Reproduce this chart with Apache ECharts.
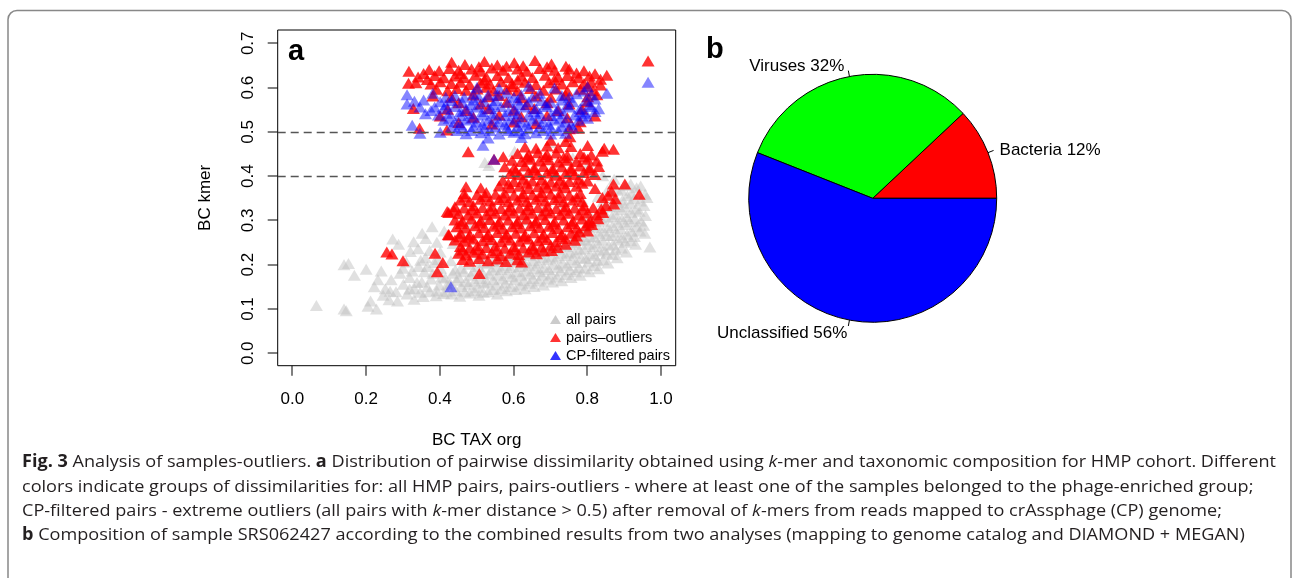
<!DOCTYPE html>
<html>
<head>
<meta charset="utf-8">
<script src="https://cdn.jsdelivr.net/npm/echarts@6/dist/echarts.min.js"></script>
<style>
html, body { margin: 0; padding: 0; background: #fff; }
#main { width: 1292px; height: 578px; }
</style>
</head>
<body>
<div id="main"></div>
<script>
// ---- data ----
var xTicks = [0, 0.2, 0.4, 0.6, 0.8, 1.0];
var yTicks = [0, 0.1, 0.2, 0.3, 0.4, 0.5, 0.6, 0.7];
var xExtent = [-0.04, 1.04];     // R pads the axes by 4%
var yExtent = [-0.028, 0.73];
var cutLines = [0.5, 0.4];

// all pairs (grey cloud)
var grayPts = [
  [0.065,0.108],[0.140,0.100],[0.146,0.096],[0.140,0.200],[0.152,0.203],[0.168,0.176],[0.200,0.190],[0.228,0.100],[0.212,0.118],[0.205,0.106],
  [0.222,0.150],[0.232,0.166],[0.241,0.186],[0.246,0.131],[0.252,0.146],[0.262,0.121],[0.272,0.258],[0.288,0.246],[0.268,0.166],[0.281,0.139],
  [0.292,0.181],[0.301,0.156],[0.309,0.206],[0.318,0.171],[0.329,0.252],[0.341,0.236],[0.352,0.271],[0.362,0.259],[0.311,0.134],[0.331,0.146],
  [0.342,0.196],[0.351,0.161],[0.361,0.216],[0.372,0.139],[0.381,0.181],[0.379,0.286],[0.392,0.251],[0.401,0.229],[0.398,0.154],[0.412,0.276],
  [0.418,0.139],[0.970,0.240],[0.320,0.230],[0.300,0.192],[0.265,0.140],[0.358,0.184],[0.372,0.232],[0.385,0.205],[0.402,0.192],[0.415,0.170],
  [0.285,0.118],[0.330,0.122],[0.355,0.128],[0.390,0.130],
  [0.432,0.134],[0.428,0.158],[0.435,0.181],[0.430,0.209],[0.436,0.248],
  [0.454,0.129],[0.458,0.151],[0.452,0.171],[0.457,0.192],[0.453,0.231],[0.459,0.270],
  [0.481,0.136],[0.478,0.156],[0.484,0.176],[0.479,0.201],[0.482,0.238],[0.477,0.292],
  [0.506,0.131],[0.503,0.149],[0.508,0.169],[0.504,0.196],[0.507,0.219],
  [0.531,0.139],[0.528,0.161],[0.533,0.179],[0.529,0.202],[0.532,0.251],[0.527,0.302],
  [0.556,0.134],[0.553,0.154],[0.558,0.176],[0.554,0.195],[0.557,0.216],
  [0.581,0.141],[0.578,0.159],[0.583,0.181],[0.579,0.199],[0.582,0.221],[0.577,0.268],
  [0.606,0.144],[0.603,0.166],[0.608,0.184],[0.604,0.206],[0.607,0.224],
  [0.631,0.146],[0.628,0.164],[0.633,0.186],[0.629,0.204],[0.632,0.226],[0.627,0.301],
  [0.656,0.151],[0.653,0.169],[0.658,0.191],[0.654,0.209],[0.657,0.231],
  [0.681,0.154],[0.678,0.176],[0.683,0.194],[0.679,0.216],[0.682,0.234],[0.677,0.321],
  [0.706,0.161],[0.703,0.179],[0.708,0.201],[0.704,0.219],[0.707,0.241],
  [0.731,0.164],[0.728,0.186],[0.733,0.204],[0.729,0.226],[0.732,0.244],[0.727,0.339],
  [0.756,0.171],[0.753,0.189],[0.758,0.211],[0.754,0.229],[0.757,0.251],
  [0.781,0.176],[0.778,0.194],[0.783,0.216],[0.779,0.234],[0.782,0.256],[0.777,0.274],[0.784,0.349],
  [0.806,0.184],[0.803,0.206],[0.808,0.224],[0.804,0.246],[0.807,0.264],[0.802,0.286],[0.809,0.311],
  [0.831,0.191],[0.828,0.209],[0.833,0.231],[0.829,0.249],[0.832,0.271],[0.827,0.289],[0.834,0.321],[0.830,0.354],
  [0.856,0.204],[0.853,0.226],[0.858,0.244],[0.854,0.266],[0.857,0.284],[0.852,0.306],[0.859,0.331],[0.855,0.369],
  [0.881,0.216],[0.878,0.234],[0.883,0.256],[0.879,0.274],[0.882,0.296],[0.877,0.314],[0.884,0.341],[0.880,0.371],
  [0.906,0.229],[0.903,0.251],[0.908,0.269],[0.904,0.291],[0.907,0.309],[0.902,0.331],[0.909,0.356],[0.905,0.379],
  [0.931,0.246],[0.928,0.264],[0.933,0.286],[0.929,0.304],[0.932,0.326],[0.927,0.349],[0.934,0.374],
  [0.956,0.271],[0.953,0.289],[0.958,0.311],[0.954,0.334],[0.957,0.359],
  [0.522,0.431],[0.533,0.424],[0.603,0.456],[0.702,0.476],[0.761,0.441],[0.802,0.426],[0.842,0.401],[0.873,0.393],[0.918,0.382],[0.945,0.378],[0.962,0.352],
  [0.318,0.145],[0.338,0.160],[0.346,0.138],[0.366,0.150],[0.376,0.168],[0.392,0.141],[0.405,0.172],[0.410,0.135],[0.420,0.155],[0.325,0.186],[0.348,0.210],[0.366,0.196],[0.395,0.212],
  [0.443,0.142],[0.445,0.165],[0.442,0.188],
  [0.468,0.139],[0.470,0.162],[0.466,0.184],
  [0.493,0.141],[0.495,0.163],[0.491,0.186],
  [0.518,0.138],[0.520,0.159],[0.516,0.182],[0.519,0.205],
  [0.543,0.144],[0.545,0.166],[0.541,0.188],[0.544,0.208],
  [0.568,0.146],[0.570,0.168],[0.566,0.189],[0.569,0.210],
  [0.593,0.151],[0.595,0.173],[0.591,0.194],[0.594,0.215],
  [0.618,0.154],[0.620,0.176],[0.616,0.196],[0.619,0.216],
  [0.643,0.158],[0.645,0.179],[0.641,0.199],[0.644,0.221],
  [0.668,0.163],[0.670,0.184],[0.666,0.204],[0.669,0.226],
  [0.693,0.168],[0.695,0.189],[0.691,0.211],[0.694,0.231],
  [0.718,0.172],[0.720,0.194],[0.716,0.215],[0.719,0.236],
  [0.743,0.178],[0.745,0.199],[0.741,0.221],[0.744,0.241],
  [0.768,0.184],[0.770,0.205],[0.766,0.226],[0.769,0.246],[0.767,0.266],
  [0.793,0.191],[0.795,0.214],[0.791,0.236],[0.794,0.256],[0.792,0.278],
  [0.818,0.198],[0.820,0.221],[0.816,0.241],[0.819,0.262],[0.817,0.284],[0.821,0.305],
  [0.843,0.211],[0.845,0.234],[0.841,0.256],[0.844,0.276],[0.842,0.298],[0.846,0.319],[0.843,0.342],
  [0.868,0.223],[0.870,0.246],[0.866,0.266],[0.869,0.288],[0.867,0.309],[0.871,0.331],[0.868,0.356],
  [0.893,0.238],[0.895,0.261],[0.891,0.281],[0.894,0.303],[0.892,0.324],[0.896,0.346],[0.893,0.368],
  [0.918,0.254],[0.920,0.276],[0.916,0.297],[0.919,0.318],[0.917,0.339],[0.921,0.362],
  [0.943,0.276],[0.945,0.299],[0.941,0.321],[0.944,0.344]
];

// pairs-outliers (red)
var redPts = [
  [0.462,0.212],[0.481,0.208],[0.506,0.214],[0.531,0.209],[0.556,0.213],[0.579,0.207],[0.611,0.211],[0.622,0.206],
  [0.451,0.226],[0.472,0.222],[0.491,0.228],[0.516,0.224],[0.541,0.227],[0.566,0.221],[0.591,0.226],[0.614,0.223],[0.641,0.229],[0.662,0.225],[0.681,0.231],
  [0.462,0.233],[0.503,0.234],[0.553,0.232],[0.603,0.233],[0.653,0.235],[0.703,0.232],
  [0.456,0.241],[0.481,0.238],[0.502,0.243],[0.526,0.239],[0.551,0.242],[0.576,0.237],[0.601,0.241],[0.626,0.238],[0.651,0.243],[0.676,0.240],[0.701,0.244],[0.719,0.239],[0.741,0.246],
  [0.441,0.256],[0.466,0.253],[0.491,0.258],[0.516,0.254],[0.541,0.257],[0.566,0.252],[0.591,0.256],[0.616,0.253],[0.641,0.258],[0.666,0.254],[0.691,0.257],[0.716,0.252],[0.741,0.259],[0.766,0.255],
  [0.453,0.263],[0.478,0.262],[0.528,0.264],[0.578,0.262],[0.628,0.263],[0.678,0.262],[0.728,0.263],[0.771,0.265],
  [0.423,0.268],[0.456,0.271],[0.481,0.267],[0.506,0.272],[0.531,0.268],[0.556,0.273],[0.581,0.269],[0.606,0.271],[0.631,0.266],[0.656,0.272],[0.681,0.269],[0.706,0.273],[0.731,0.268],[0.756,0.271],[0.779,0.274],[0.801,0.276],
  [0.446,0.286],[0.471,0.283],[0.496,0.288],[0.521,0.284],[0.546,0.287],[0.571,0.282],[0.596,0.286],[0.621,0.283],[0.646,0.288],[0.671,0.284],[0.696,0.287],[0.721,0.282],[0.746,0.286],[0.771,0.283],[0.796,0.288],[0.812,0.291],
  [0.458,0.293],[0.508,0.294],[0.558,0.292],[0.608,0.293],[0.658,0.294],[0.708,0.292],[0.758,0.293],[0.803,0.295],
  [0.441,0.301],[0.461,0.298],[0.486,0.303],[0.511,0.299],[0.536,0.302],[0.561,0.297],[0.586,0.301],[0.611,0.298],[0.636,0.303],[0.661,0.299],[0.686,0.302],[0.711,0.297],[0.736,0.301],[0.761,0.298],[0.786,0.303],[0.809,0.299],[0.829,0.304],
  [0.424,0.318],[0.451,0.315],[0.476,0.312],[0.501,0.317],[0.526,0.313],[0.551,0.316],[0.576,0.312],[0.601,0.317],[0.626,0.313],[0.651,0.316],[0.676,0.312],[0.701,0.317],[0.726,0.313],[0.751,0.316],[0.776,0.312],[0.801,0.317],[0.826,0.313],[0.842,0.318],
  [0.438,0.323],[0.488,0.324],[0.538,0.322],[0.588,0.323],[0.638,0.324],[0.688,0.322],[0.738,0.323],[0.788,0.324],[0.838,0.326],
  [0.441,0.331],[0.466,0.328],[0.491,0.333],[0.516,0.329],[0.541,0.332],[0.566,0.327],[0.591,0.331],[0.616,0.328],[0.641,0.333],[0.666,0.329],[0.691,0.332],[0.716,0.327],[0.741,0.331],[0.766,0.328],[0.791,0.333],[0.816,0.329],[0.851,0.334],[0.872,0.337],
  [0.456,0.346],[0.481,0.343],[0.511,0.348],[0.536,0.344],[0.561,0.347],[0.586,0.342],[0.611,0.346],[0.636,0.343],[0.661,0.348],[0.686,0.344],[0.711,0.347],[0.736,0.342],[0.761,0.346],[0.786,0.343],[0.841,0.352],[0.876,0.349],
  [0.468,0.353],[0.523,0.354],[0.573,0.352],[0.623,0.353],[0.673,0.354],[0.723,0.352],[0.771,0.353],[0.856,0.357],
  [0.466,0.361],[0.501,0.358],[0.526,0.363],[0.551,0.359],[0.576,0.362],[0.601,0.357],[0.626,0.361],[0.651,0.358],[0.676,0.363],[0.701,0.359],[0.726,0.362],[0.751,0.357],[0.781,0.361],[0.866,0.366],[0.941,0.359],
  [0.471,0.376],[0.511,0.373],[0.561,0.378],[0.591,0.374],[0.616,0.377],[0.641,0.372],[0.666,0.376],[0.691,0.373],[0.716,0.378],[0.741,0.374],[0.771,0.377],[0.821,0.372],[0.871,0.382],[0.902,0.382],
  [0.586,0.383],[0.636,0.384],[0.686,0.382],[0.736,0.383],[0.786,0.384],
  [0.571,0.391],[0.601,0.388],[0.626,0.393],[0.651,0.389],[0.676,0.392],[0.701,0.387],[0.726,0.391],[0.751,0.388],[0.776,0.393],[0.801,0.389],
  [0.591,0.406],[0.616,0.403],[0.641,0.408],[0.666,0.404],[0.691,0.407],[0.716,0.402],[0.741,0.406],[0.766,0.403],[0.791,0.408],[0.821,0.404],
  [0.606,0.413],[0.656,0.414],[0.706,0.412],[0.756,0.413],[0.806,0.414],
  [0.576,0.421],[0.601,0.418],[0.631,0.423],[0.656,0.419],[0.681,0.422],[0.706,0.417],[0.731,0.421],[0.756,0.418],[0.781,0.423],[0.806,0.419],[0.831,0.422],
  [0.596,0.436],[0.621,0.433],[0.646,0.438],[0.671,0.434],[0.696,0.437],[0.721,0.432],[0.746,0.436],[0.771,0.433],[0.801,0.438],[0.826,0.434],
  [0.636,0.443],[0.686,0.444],[0.736,0.442],[0.791,0.443],
  [0.572,0.444],[0.611,0.451],[0.641,0.448],[0.666,0.453],[0.691,0.449],[0.716,0.452],[0.746,0.447],[0.781,0.451],[0.811,0.448],[0.841,0.456],[0.871,0.461],
  [0.631,0.466],[0.661,0.463],[0.691,0.468],[0.721,0.464],[0.756,0.467],[0.801,0.469],[0.846,0.463],
  [0.701,0.481],[0.741,0.478],[0.753,0.489],
  [0.477,0.455],[0.547,0.438],[0.256,0.229],[0.270,0.224],[0.300,0.209],[0.387,0.226],[0.408,0.205],[0.393,0.184],[0.507,0.180],[0.425,0.267],[0.420,0.320],
  [0.432,0.657],[0.468,0.652],[0.521,0.659],[0.556,0.651],[0.602,0.656],[0.658,0.661],[0.703,0.653],[0.742,0.648],
  [0.506,0.647],[0.581,0.648],[0.626,0.649],[0.691,0.647],
  [0.316,0.637],[0.371,0.641],[0.398,0.638],[0.426,0.643],[0.451,0.639],[0.486,0.642],[0.511,0.637],[0.541,0.644],[0.571,0.639],[0.611,0.642],[0.636,0.637],[0.671,0.643],[0.711,0.639],[0.751,0.642],[0.791,0.638],
  [0.356,0.632],[0.456,0.632],[0.771,0.633],
  [0.341,0.624],[0.386,0.627],[0.411,0.622],[0.441,0.626],[0.466,0.623],[0.496,0.628],[0.526,0.624],[0.556,0.627],[0.586,0.622],[0.621,0.626],[0.651,0.623],[0.686,0.628],[0.721,0.624],[0.746,0.627],[0.776,0.622],[0.806,0.626],[0.821,0.631],[0.853,0.628],
  [0.836,0.619],[0.366,0.618],[0.521,0.617],[0.611,0.617],[0.711,0.618],
  [0.315,0.610],[0.335,0.611],[0.376,0.608],[0.401,0.613],[0.431,0.609],[0.456,0.612],[0.481,0.607],[0.511,0.611],[0.536,0.608],[0.566,0.613],[0.596,0.609],[0.631,0.612],[0.661,0.607],[0.696,0.611],[0.731,0.608],[0.761,0.613],[0.791,0.609],[0.811,0.612],[0.836,0.606],
  [0.801,0.603],[0.526,0.601],[0.596,0.602],
  [0.391,0.596],[0.421,0.593],[0.446,0.598],[0.471,0.594],[0.501,0.597],[0.546,0.592],[0.581,0.596],[0.611,0.593],[0.646,0.598],[0.681,0.594],[0.716,0.597],[0.746,0.592],[0.781,0.596],[0.816,0.593],
  [0.381,0.581],[0.431,0.578],[0.491,0.583],[0.531,0.579],[0.561,0.582],[0.621,0.577],[0.661,0.581],[0.701,0.578],[0.741,0.583],[0.801,0.579],[0.826,0.584],
  [0.451,0.566],[0.511,0.563],[0.581,0.567],[0.636,0.562],[0.691,0.566],[0.751,0.563],[0.801,0.568],
  [0.328,0.553],[0.421,0.551],[0.471,0.548],[0.531,0.552],[0.601,0.549],[0.656,0.553],[0.721,0.548],[0.786,0.551],
  [0.401,0.536],[0.491,0.533],[0.561,0.538],[0.621,0.534],[0.691,0.537],[0.746,0.532],[0.821,0.536],
  [0.451,0.521],[0.541,0.518],[0.601,0.522],[0.661,0.519],[0.781,0.523],
  [0.345,0.508],[0.419,0.504],[0.751,0.507],[0.776,0.508],[0.965,0.660]
];

// CP-filtered pairs (blue)
var bluePts = [
  [0.501,0.601],[0.561,0.598],[0.641,0.603],[0.711,0.599],[0.801,0.602],
  [0.311,0.584],[0.381,0.587],[0.441,0.582],[0.491,0.586],[0.531,0.583],[0.581,0.588],[0.621,0.584],[0.671,0.587],[0.731,0.582],[0.771,0.586],[0.811,0.583],[0.853,0.587],
  [0.416,0.578],[0.466,0.578],[0.506,0.578],[0.556,0.583],[0.601,0.578],[0.651,0.578],[0.751,0.578],[0.791,0.592],
  [0.331,0.569],[0.356,0.572],[0.401,0.568],[0.431,0.571],[0.461,0.567],[0.491,0.572],[0.521,0.568],[0.551,0.571],[0.586,0.567],[0.611,0.572],[0.641,0.568],[0.676,0.571],[0.701,0.567],[0.731,0.572],[0.761,0.568],[0.796,0.571],[0.821,0.574],
  [0.416,0.561],[0.486,0.561],[0.546,0.561],[0.616,0.561],[0.686,0.561],[0.746,0.561],[0.806,0.561],
  [0.311,0.563],[0.386,0.556],[0.411,0.553],[0.441,0.557],[0.471,0.552],[0.501,0.556],[0.536,0.553],[0.566,0.557],[0.601,0.552],[0.631,0.556],[0.661,0.553],[0.691,0.557],[0.721,0.552],[0.751,0.556],[0.781,0.553],[0.811,0.557],[0.831,0.552],
  [0.346,0.556],[0.376,0.548],[0.456,0.546],[0.516,0.546],[0.586,0.546],[0.656,0.546],[0.716,0.546],[0.781,0.546],
  [0.361,0.541],[0.396,0.538],[0.426,0.542],[0.456,0.537],[0.486,0.541],[0.516,0.538],[0.546,0.542],[0.576,0.537],[0.611,0.541],[0.641,0.538],[0.671,0.542],[0.701,0.537],[0.736,0.541],[0.766,0.538],[0.796,0.542],[0.821,0.546],
  [0.426,0.531],[0.486,0.531],[0.546,0.531],[0.606,0.531],[0.666,0.531],[0.726,0.531],[0.786,0.536],
  [0.411,0.526],[0.441,0.523],[0.471,0.527],[0.501,0.522],[0.531,0.526],[0.561,0.523],[0.591,0.527],[0.621,0.522],[0.651,0.526],[0.681,0.523],[0.711,0.527],[0.741,0.522],[0.776,0.526],[0.801,0.531],
  [0.456,0.517],[0.516,0.517],[0.576,0.517],[0.636,0.517],[0.696,0.517],[0.756,0.517],
  [0.325,0.515],[0.431,0.511],[0.461,0.508],[0.491,0.512],[0.521,0.507],[0.551,0.511],[0.581,0.508],[0.611,0.512],[0.641,0.507],[0.671,0.511],[0.701,0.508],[0.731,0.512],[0.761,0.509],
  [0.446,0.503],[0.486,0.503],[0.536,0.503],[0.586,0.503],[0.616,0.503],[0.681,0.503],[0.721,0.503],
  [0.346,0.497],[0.401,0.499],[0.471,0.496],[0.511,0.498],[0.561,0.495],[0.601,0.499],[0.631,0.496],[0.661,0.498],[0.701,0.495],[0.741,0.497],
  [0.531,0.486],[0.621,0.487],[0.517,0.470],[0.547,0.438],[0.430,0.150],[0.965,0.612]
];

// pie (panel b)
var pieNames = ['Bacteria', 'Viruses', 'Unclassified'];
var pieValues = [12, 32, 56];
var pieColors = ['#ff0000', '#00ff00', '#0000ff'];

var captionLines = [
  '{b|Fig. 3} Analysis of samples-outliers. {b|a} Distribution of pairwise dissimilarity obtained using {i|k}-mer and taxonomic composition for HMP cohort. Different',
  'colors indicate groups of dissimilarities for: all HMP pairs, pairs-outliers - where at least one of the samples belonged to the phage-enriched group;',
  'CP-filtered pairs - extreme outliers (all pairs with {i|k}-mer distance > 0.5) after removal of {i|k}-mers from reads mapped to crAssphage (CP) genome;',
  '{b|b} Composition of sample SRS062427 according to the combined results from two analyses (mapping to genome catalog and DIAMOND + MEGAN)'
];

// ---- chart ----
var FONT = '"Liberation Sans", Arial, Helvetica, sans-serif';
var CAPFONT = '"Open Sans", "Noto Sans", sans-serif';
var CAPSIZE = 17;
var TRI = [13, 11];
var TICKLEN = 10;
var GRID = { left: 277.7, top: 30, width: 398, height: 335.7 };

// fit caption width like the original (first line spans ~1254px)
function measureRich(line) {
  var ctx = document.createElement('canvas').getContext('2d');
  var w = 0, re = /\{(\w)\|([^}]*)\}|([^{]+)/g, m;
  while ((m = re.exec(line)) !== null) {
    var style = '', txt = m[3];
    if (m[1]) { txt = m[2]; style = m[1] === 'b' ? 'bold ' : 'italic '; }
    ctx.font = style + CAPSIZE + 'px ' + CAPFONT;
    w += ctx.measureText(txt).width;
  }
  return w;
}
var capScale = 1254 / measureRich(captionLines[0]);

var myChart = echarts.init(document.getElementById('main'), null, { renderer: 'canvas' });

var capRich = {
  b: { fontWeight: 'bold', fontSize: CAPSIZE, fontFamily: CAPFONT, fill: '#231f20' },
  i: { fontStyle: 'italic', fontSize: CAPSIZE, fontFamily: CAPFONT, fill: '#231f20' }
};
var captionY = [462, 487, 511, 535];
var graphics = [
  {
    id: 'frame', type: 'rect', silent: true,
    shape: { x: 8, y: 10.5, width: 1283, height: 700, r: 9 },
    style: { fill: 'transparent', stroke: '#888', lineWidth: 1.5 }
  },
  {
    id: 'panelA', type: 'text', x: 288, y: 52,
    style: { text: 'a', fontSize: 29, fontWeight: 'bold', fontFamily: FONT, fill: '#000', verticalAlign: 'middle' }
  },
  {
    id: 'panelB', type: 'text', x: 706, y: 50,
    style: { text: 'b', fontSize: 29, fontWeight: 'bold', fontFamily: FONT, fill: '#000', verticalAlign: 'middle' }
  }
];
for (var i = 0; i < captionLines.length; i++) {
  graphics.push({
    id: 'cap' + i, type: 'text', x: 22, y: captionY[i], scaleX: capScale, originX: 0, originY: 0,
    style: {
      text: captionLines[i], rich: capRich,
      fontSize: CAPSIZE, fontFamily: CAPFONT, fill: '#231f20', verticalAlign: 'middle'
    }
  });
}

// R puts pie labels at 1.1r; nudge them with spacer lines
var pieLabelFmt = [
  '{t|{b} {c}%}',
  '{t|{b} {c}%}\n{g8| }',
  '{g14| }\n{t|{b} {c}%}'
];
var pieLabelDist = [6, 4, 1];
var pieData = [];
for (var j = 0; j < pieNames.length; j++) {
  pieData.push({
    name: pieNames[j], value: pieValues[j],
    itemStyle: { color: pieColors[j] },
    label: { formatter: pieLabelFmt[j], distanceToLabelLine: pieLabelDist[j] }
  });
}

option = {
  animation: false,
  backgroundColor: '#fff',
  textStyle: { fontFamily: FONT },
  grid: {
    left: GRID.left, top: GRID.top, width: GRID.width, height: GRID.height,
    show: true, borderColor: '#000', borderWidth: 1, backgroundColor: 'transparent'
  },
  legend: {
    left: 545, top: 307, orient: 'vertical',
    itemWidth: 11, itemHeight: 9, itemGap: 3,
    textStyle: { color: '#000', fontSize: 14.5, fontFamily: FONT },
    data: [
      { name: 'all pairs', icon: 'triangle', itemStyle: { color: '#bebebe' } },
      { name: 'pairs\u2013outliers', icon: 'triangle', itemStyle: { color: '#ff0000' } },
      { name: 'CP-filtered pairs', icon: 'triangle', itemStyle: { color: '#0000ff' } }
    ],
    selectedMode: false
  },
  xAxis: {
    type: 'value', min: xExtent[0], max: xExtent[1],
    name: 'BC TAX org', nameLocation: 'middle', nameGap: 66,
    nameTextStyle: { color: '#000', fontSize: 17, fontFamily: FONT },
    axisLine: { show: false, onZero: false },
    axisTick: { show: false },
    axisLabel: {
      customValues: xTicks, margin: 25, color: '#000', fontSize: 17, fontFamily: FONT,
      formatter: function (v) { return v.toFixed(1); }
    },
    splitLine: { show: false }
  },
  yAxis: {
    type: 'value', min: yExtent[0], max: yExtent[1],
    name: 'BC kmer', nameLocation: 'middle', nameGap: 64,
    nameTextStyle: { color: '#000', fontSize: 17, fontFamily: FONT },
    axisLine: { show: false, onZero: false },
    axisTick: { show: false },
    axisLabel: {
      customValues: yTicks, margin: 21, rotate: 90, color: '#000', fontSize: 17, fontFamily: FONT,
      formatter: function (v) { return v.toFixed(1); }
    },
    splitLine: { show: false }
  },
  graphic: { elements: graphics },
  series: [
    {
      name: 'all pairs', type: 'scatter', symbol: 'triangle', symbolSize: TRI,
      itemStyle: { color: 'rgba(190,190,190,0.6)' },
      emphasis: { disabled: true }, silent: true,
      data: grayPts,
      markLine: {
        silent: true, symbol: ['none', 'none'], label: { show: false },
        lineStyle: { color: '#555', type: [8, 5], width: 1.3 },
        data: cutLines.map(function (v) { return { yAxis: v }; })
      }
    },
    {
      name: 'pairs\u2013outliers', type: 'scatter', symbol: 'triangle', symbolSize: TRI,
      itemStyle: { color: '#ff0000' },
      emphasis: { disabled: true }, silent: true,
      data: redPts
    },
    {
      name: 'CP-filtered pairs', type: 'scatter', symbol: 'triangle', symbolSize: TRI,
      itemStyle: { color: 'rgba(0,0,255,0.6)' },
      emphasis: { disabled: true }, silent: true,
      data: bluePts
    },
    {
      name: 'composition', type: 'pie',
      center: [872.7, 198.3], radius: 124,
      startAngle: 0, clockwise: false,
      silent: true, emphasis: { disabled: true },
      itemStyle: { borderColor: '#000', borderWidth: 1 },
      label: {
        show: true, position: 'outside',
        color: '#000', fontSize: 17, fontFamily: FONT,
        rich: {
          t: { color: '#000', fontSize: 17, fontFamily: FONT, lineHeight: 20 },
          g8: { fontSize: 4, lineHeight: 8 },
          g14: { fontSize: 4, lineHeight: 14 }
        }
      },
      labelLine: { show: true, length: 6, length2: 0, lineStyle: { color: '#000', width: 1 } },
      data: pieData
    }
  ]
};
myChart.setOption(option);

// R-style outward ticks on the box edges: position from the axis scale,
// with the same linear mapping as a fallback
function toPixel(pt) {
  var p = null;
  try { p = myChart.convertToPixel({ xAxisIndex: 0, yAxisIndex: 0 }, pt); } catch (e) { p = null; }
  if (!p || !isFinite(p[0]) || !isFinite(p[1])) {
    p = [
      GRID.left + (pt[0] - xExtent[0]) / (xExtent[1] - xExtent[0]) * GRID.width,
      GRID.top + (yExtent[1] - pt[1]) / (yExtent[1] - yExtent[0]) * GRID.height
    ];
  }
  return p;
}
var tickEls = [];
xTicks.forEach(function (v, k) {
  var p = toPixel([v, yExtent[0]]);
  tickEls.push({
    id: 'xt' + k, type: 'rect', z: 100, silent: true,
    shape: { x: Math.round(p[0]) - 0.5, y: p[1], width: 1, height: TICKLEN },
    style: { fill: '#000', stroke: null }
  });
});
yTicks.forEach(function (v, k) {
  var p = toPixel([xExtent[0], v]);
  tickEls.push({
    id: 'yt' + k, type: 'rect', z: 100, silent: true,
    shape: { x: p[0] - TICKLEN, y: Math.round(p[1]) - 0.5, width: TICKLEN, height: 1 },
    style: { fill: '#000', stroke: null }
  });
});
myChart.setOption({ graphic: { elements: graphics.concat(tickEls) } });
</script>
</body>
</html>
